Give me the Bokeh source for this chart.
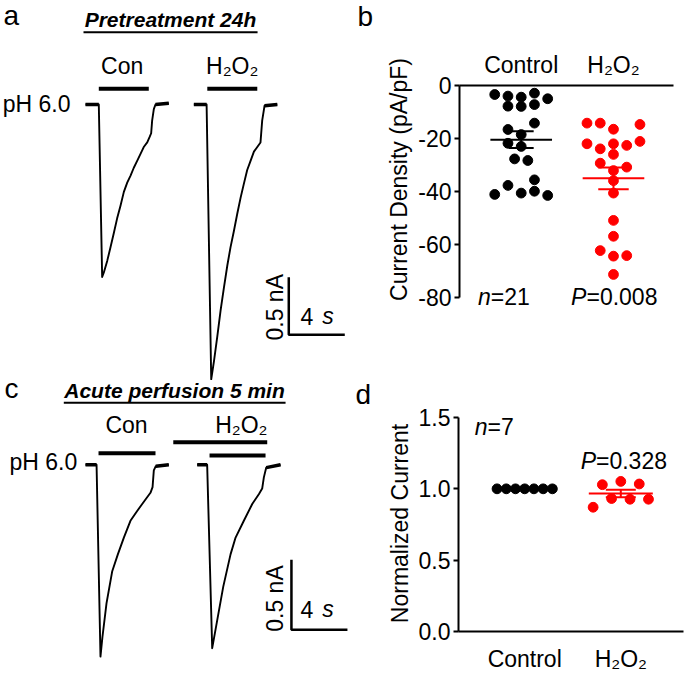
import numpy as np
from bokeh.plotting import figure
from bokeh.layouts import column, row
from bokeh.models import Label, FixedTicker, Range1d, NumeralTickFormatter
from bokeh.embed import file_html
from bokeh.resources import INLINE

FONT = "Liberation Sans"
FS = "23px"

# ---------------- Panel a: pretreatment 24 h (time s, current nA) ----------------
a_con_t = [0, 0.95, 1.19, 1.31, 1.55, 1.79, 2.02, 2.26, 2.50, 2.74, 2.98, 3.21, 3.45,
           3.69, 3.93, 4.16, 4.41, 4.59, 4.69, 4.76, 4.88, 5.00, 5.95]
a_con_i = [0, 0, -1.50, -1.46, -1.36, -1.24, -1.12, -0.99, -0.88, -0.76, -0.68, -0.62, -0.55,
           -0.49, -0.43, -0.37, -0.33, -0.28, -0.25, -0.14, -0.04, 0, 0.01]
a_h2o2_t = [0, 0.91, 1.24, 1.44, 1.67, 1.91, 2.15, 2.39, 2.62, 2.86, 3.10, 3.34, 3.57,
            3.81, 4.05, 4.29, 4.53, 4.76, 4.88, 5.05, 5.96]
a_h2o2_i = [0, 0, -2.39, -2.23, -2.02, -1.79, -1.59, -1.40, -1.24, -1.10, -0.95, -0.81, -0.69,
            -0.57, -0.49, -0.41, -0.37, -0.33, -0.14, -0.01, 0]
a_gap = 7.74                  # start of the H2O2 sweep (s)
a_ph_on = [0.95, 0.96]        # pH 6.0 application (s, relative to each sweep)
a_ph_off = [4.52, 4.53]

# ---------------- Panel c: acute perfusion 5 min ----------------
c_con_t = [0, 0.79, 1.07, 1.21, 1.50, 1.91, 2.31, 2.74, 3.21, 3.69, 4.05, 4.64, 4.79, 4.88, 5.02, 5.95]
c_con_i = [0, 0, -1.37, -1.23, -0.99, -0.76, -0.64, -0.52, -0.40, -0.33, -0.28, -0.20, -0.16, -0.04, -0.01, 0]
c_h2o2_t = [0, 0.71, 1.07, 1.43, 1.86, 2.38, 2.74, 3.33, 3.93, 4.40, 4.64, 4.76, 4.93, 5.95]
c_h2o2_i = [0, 0, -1.31, -1.11, -0.87, -0.64, -0.52, -0.40, -0.28, -0.21, -0.17, -0.09, -0.02, 0]
c_gap = 7.98
c_ph_on = [0.93, 0.88]
c_ph_off = [5.00, 4.88]
c_h2o2_on = -1.71             # H2O2 perfusion (relative to H2O2 sweep)
c_h2o2_off = 5.00

SCALE_T = 4.0     # s
SCALE_I = 0.5     # nA

# ---------------- Panel b: current density ----------------
categories = ["Control", "H\u2082O\u2082"]
b_control = [-3.4, -4.0, -4.4, -2.9, -5.0, -7.8, -7.9, -7.2, -14.2, -16.6, -18.5,
             -21.8, -23.0, -27.7, -28.3, -35.6, -37.7, -41.1, -40.6, -39.9, -41.5]
b_control_col = [-2, -1, 0, 1, 2, -1, 0, 1, 1, -1, 0, -1, 0, -0.5, 0.5, 1, -1, -2, 0, 1, 2]
b_h2o2 = [-14.2, -14.2, -16.5, -14.7, -22.0, -23.9, -22.0, -22.6, -21.1, -26.0, -29.3,
          -30.8, -32.1, -35.9, -40.6, -50.9, -56.9, -62.3, -64.4, -64.2, -71.3]
b_h2o2_col = [-2, -1, 0, 2, -2, -1, 0, 1, 2, 0, -1, 1, 0, 0, 0, 0, 0, -1, 0, 1, 0]
b_ticks = [-80, -60, -40, -20, 0]
b_ylabel = "Current Density (pA/pF)"

# ---------------- Panel d: normalized current ----------------
d_control = [1.0, 1.0, 1.0, 1.0, 1.0, 1.0, 1.0]
d_control_col = [-3, -2, -1, 0, 1, 2, 3]
d_h2o2 = [1.029, 1.052, 1.034, 0.871, 0.932, 0.927, 0.927]
d_h2o2_col = [-2, 0, 2, -3, -1, 1, 3]
d_ticks = [0, 0.5, 1.0, 1.5]
d_ylabel = "Normalized Current"

RED = "#ff0000"
LEFT_W = 415


def base_fig(w, h, xr, yr, **kw):
    p = figure(width=w, height=h, x_range=Range1d(*xr), y_range=Range1d(*yr),
               output_backend="svg", toolbar_location=None, **kw)
    p.grid.visible = False
    p.outline_line_color = None
    p.background_fill_color = "white"
    p.border_fill_color = "white"
    return p


def lab(p, x, y, text, size=FS, align="left", baseline="alphabetic", style="normal", angle=0):
    p.add_layout(Label(x=x, y=y, text=text, text_font=FONT, text_font_size=size,
                       text_align=align, text_baseline=baseline, text_font_style=style,
                       text_color="black", angle=angle))


def sweep(p, t, i, shift):
    x = np.array(t) + shift
    p.line(x, i, line_color="black", line_width=1.9, line_join="round")
    # noisy baseline before / after the response looks thicker
    p.line(x[:2], i[:2], line_color="black", line_width=3.5)
    p.line(x[-2:], i[-2:], line_color="black", line_width=3.5)


def trace_panel(h, yr, con_t, con_i, h_t, h_i, gap, ph_on, ph_off, ph_y, letter, title,
                title_y, ul, ul_y, con_x, h_x, name_y, ph_lab_x, ph_lab_y, sc_t, sc_i,
                sc_lab_x, sc_lab_y, s4_x, s_x, s4_y, letter2, ylab):
    p = base_fig(LEFT_W, h, (-6.0714, (LEFT_W - 85) / 14.0), yr,
                 x_axis_location=None, y_axis_location=None, min_border=0)
    sweep(p, con_t, con_i, 0)
    sweep(p, h_t, h_i, gap)
    offs = np.array([0, gap])
    p.segment(x0=np.array(ph_on) + offs, y0=ph_y, x1=np.array(ph_off) + offs, y1=ph_y,
              line_color="black", line_width=4)
    # scale bar
    p.line([sc_t, sc_t, sc_t + SCALE_T], [sc_i + SCALE_I, sc_i, sc_i],
           line_color="black", line_width=2.5)
    lab(p, letter[1], letter[2], letter[0], size="28px")
    lab(p, letter2[1], letter2[2], letter2[0], size="28px")
    lab(p, title[0], title_y, title[1], size="21px", align="center", style="bold italic")
    p.segment(x0=[ul[0]], y0=[ul_y], x1=[ul[1]], y1=[ul_y], line_color="black", line_width=2)
    lab(p, con_x, name_y, "Con", align="center")
    lab(p, h_x + gap, name_y, "H\u2082O\u2082", align="center")
    lab(p, ph_lab_x, ph_lab_y, "pH 6.0", align="right")
    lab(p, sc_lab_x, sc_lab_y, "0.5 nA", align="center", angle=np.pi / 2)
    lab(p, s4_x, s4_y, "4")
    lab(p, s_x, s4_y, "s", style="italic")
    # y-axis title of the neighbouring scatter panel
    lab(p, ylab[1], ylab[2], ylab[0], align="center", angle=np.pi / 2)
    return p


fa = trace_panel(380, (-2.4, 0.9043), a_con_t, a_con_i, a_h2o2_t, a_h2o2_i, a_gap,
                 a_ph_on, a_ph_off, 0.1365, ("a", -5.857, 0.778), (6.07, "Pretreatment 24h"),
                 0.739, (-0.143, 12.29), 0.629, 2.62, 2.74, 0.335, -1.071, 0.007,
                 14.52, -2.003, 13.55, -1.763, 15.36, 16.91, -1.842, ("b", 19.43, 0.761),
                 (b_ylabel, 22.37, -0.652))

fc = trace_panel(294, (-1.4979, 0.6021), c_con_t, c_con_i, c_h2o2_t, c_h2o2_i, c_gap,
                 c_ph_on, c_ph_off, [0.083, 0.066], ("c", -5.786, 0.545), (6.357, "Acute perfusion 5 min"),
                 0.532, (-1.55, 14.29), 0.443, 2.93, 3.15, 0.282, -0.593, 0.020,
                 14.71, -1.179, 13.55, -0.955, 15.36, 16.91, -1.032, ("d", 19.29, 0.502),
                 (d_ylabel, 22.46, -0.419))
fc.segment(x0=[c_h2o2_on + c_gap], y0=[0.161], x1=[c_h2o2_off + c_gap], y1=[0.161],
           line_color="black", line_width=4)


def style_axes(p):
    for ax in [p.xaxis[0], p.yaxis[0]]:
        ax.axis_line_width = 2
        ax.axis_line_color = "black"
        ax.major_label_text_font = FONT
        ax.major_label_text_font_size = FS
        ax.major_label_text_color = "black"
        ax.minor_tick_line_color = None
    p.xaxis.ticker = FixedTicker(ticks=[1, 2])
    p.xaxis.major_label_overrides = {1: categories[0], 2: categories[1]}
    p.xaxis.major_tick_line_color = None
    p.yaxis.major_tick_in = 0
    p.yaxis.major_tick_out = 5
    p.yaxis.major_tick_line_width = 2
    p.yaxis.major_label_standoff = 3


def dot_group(p, vals, cols, idx, step, color, half, cap):
    x = idx + np.array(cols) * step
    p.scatter(x, vals, size=9.8, color=color, line_color=color)
    v = np.array(vals)
    m = v.mean()
    se = v.std(ddof=1) / np.sqrt(len(v))
    p.segment(x0=[idx - half, idx - cap, idx - cap, idx], y0=[m, m + se, m - se, m - se],
              x1=[idx + half, idx + cap, idx + cap, idx], y1=[m, m + se, m - se, m + se],
              line_color=color, line_width=2)


RIGHT_W = 685 - LEFT_W

# ---------------- figure b ----------------
fb = base_fig(RIGHT_W, 380, (0.3312, 2.6505), (-111.32, 0), x_axis_location="above",
              min_border_left=458 - LEFT_W, min_border_right=12, min_border_top=85,
              min_border_bottom=0)
style_axes(fb)
fb.xaxis.major_label_standoff = 2
fb.yaxis.ticker = FixedTicker(ticks=b_ticks)
fb.yaxis.bounds = (-80, 0)
fb.yaxis.formatter = NumeralTickFormatter(format="0")
dot_group(fb, b_control, b_control_col, 1, 0.1435, "black", 0.334, 0.135)
dot_group(fb, b_h2o2, b_h2o2_col, 2, 0.1435, RED, 0.334, 0.165)
lab(fb, 0.671, -79.8, "n", align="right", style="italic")
lab(fb, 0.671, -79.8, "=21")
lab(fb, 1.707, -79.8, "P", align="right", style="italic")
lab(fb, 1.707, -79.8, "=0.008")

# ---------------- figure d ----------------
fd = base_fig(RIGHT_W, 294, (0.3111, 2.6524), (0, 1.5),
              min_border_left=458 - LEFT_W, min_border_right=2, min_border_top=37,
              min_border_bottom=36)
style_axes(fd)
fd.xaxis.major_label_standoff = 8
fd.yaxis.ticker = FixedTicker(ticks=d_ticks)
fd.yaxis.formatter = NumeralTickFormatter(format="0.0")
dot_group(fd, d_control, d_control_col, 1, 0.096, "black", 0.333, 0.156)
dot_group(fd, d_h2o2, d_h2o2_col, 2, 0.096, RED, 0.333, 0.156)
lab(fd, 0.613, 1.436, "n", align="right", style="italic")
lab(fd, 0.613, 1.436, "=7")
lab(fd, 1.742, 1.198, "P", align="right", style="italic")
lab(fd, 1.742, 1.198, "=0.328")

layout = row(column(row(fa), row(fc)), column(row(fb), row(fd)))
open("out.html", "w").write(file_html(layout, INLINE))
